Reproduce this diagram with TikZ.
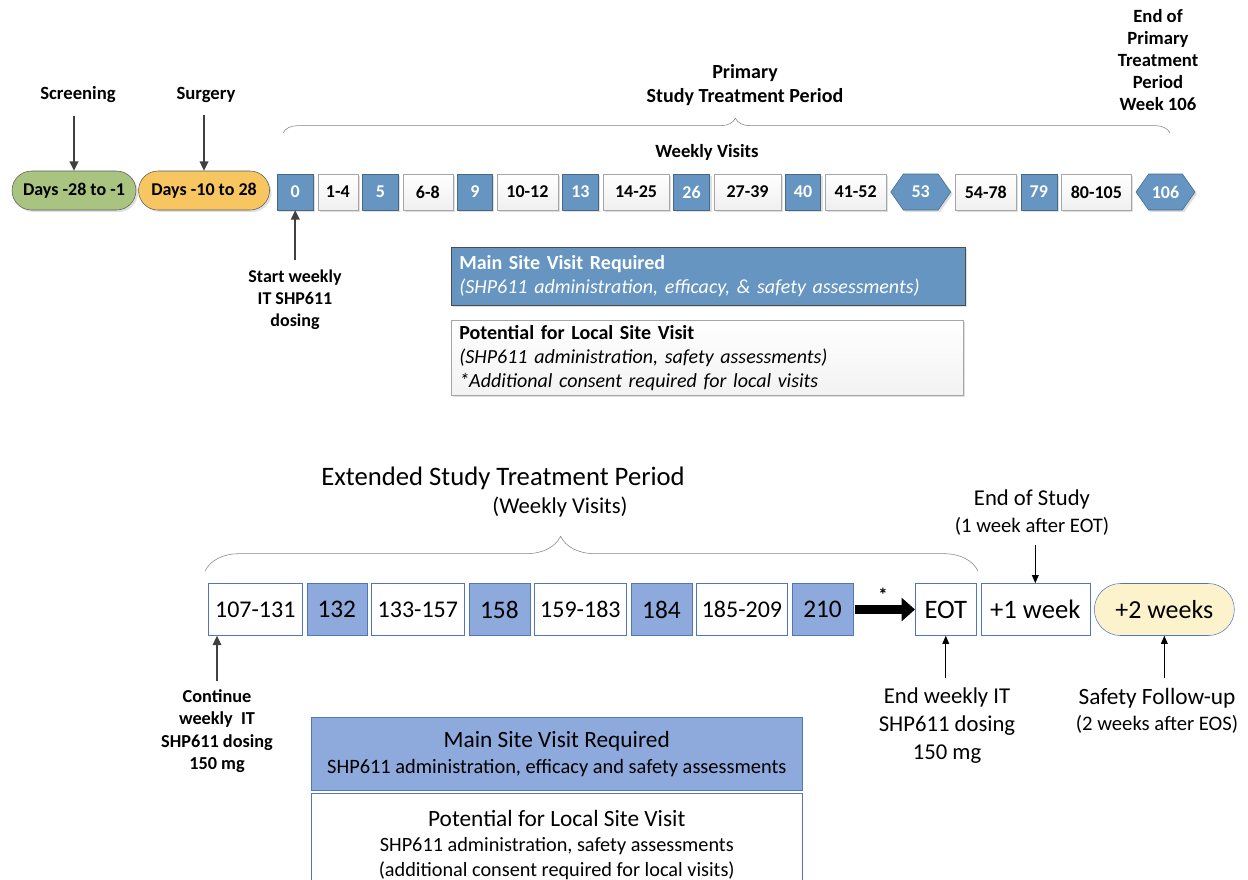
\documentclass[tikz,border=0pt]{standalone}
\usepackage{fontspec}
\setmainfont{Carlito}
\usepackage{xcolor}
\usetikzlibrary{positioning}
\usetikzlibrary{shapes.misc,shapes.symbols,shadows}
\usetikzlibrary{arrows.meta,decorations.pathreplacing}
\definecolor{visitblue}{RGB}{101,149,192}
\definecolor{lightblue}{RGB}{142,169,219}
\definecolor{edgeblue}{RGB}{82,118,190}
\definecolor{screengreen}{RGB}{169,196,128}
\definecolor{surgorange}{RGB}{247,198,96}
\definecolor{fupyellow}{RGB}{252,243,204}
\definecolor{arrgray}{RGB}{64,64,64}
\tikzset{>={Triangle[length=7pt,width=6.5pt]}}

\begin{document}
\begin{tikzpicture}[x=0.75pt, y=-0.75pt, node distance=3pt,
		wd/.style={minimum width=#1*0.75pt},
		ht/.style={minimum height=#1*0.75pt},
		tlab/.style={font=\fontsize{14}{16.5}\selectfont\bfseries, align=center},
		blab/.style={font=\fontsize{17}{21}\selectfont, align=center},
		shad/.style={drop shadow={opacity=0.25, shadow xshift=1.5pt, shadow yshift=-1.5pt}},
		wk/.style={draw=gray!70, top color=white, bottom color=gray!12, ht=36, inner sep=0pt,
			font=\fontsize{13.5}{15}\selectfont\bfseries, shad},
		bk/.style={draw=visitblue!70!black, fill=visitblue, text=white, ht=36, inner sep=0pt,
			font=\fontsize{13.5}{15}\selectfont\bfseries, shad},
		hx/.style={bk, signal, signal to=west and east, signal pointer angle=110},
		pill/.style={rounded rectangle, draw=gray!70!black, ht=39, inner sep=0pt,
			font=\fontsize{13.5}{15}\selectfont\bfseries, shad},
		ewk/.style={draw=edgeblue, fill=white, ht=52, inner sep=0pt,
			font=\fontsize{18}{20}\selectfont},
		ebk/.style={draw=edgeblue, fill=lightblue, ht=52, inner sep=0pt,
			font=\fontsize{19}{20}\selectfont},
		arr/.style={->, arrgray, line width=1.2pt},
		barr/.style={-{Triangle[length=6pt,width=5pt]}, black, line width=0.7pt}]
	\useasboundingbox (0,0) rectangle (1248,879);

	%% Primary study treatment period
	\node [pill, fill=screengreen, wd=124] (scrn) at (74,190.5) {Days -28 to -1};
	\node [pill, fill=surgorange, wd=131, right=1.5pt of scrn] (surgd) {Days -10 to 28};
	\node [tlab] (scr) at (78,95) {Screening};
	\node [tlab] (surg) at (206,95) {Surgery};
	\draw [arr, shorten <=6pt] (scr.south -| scrn.north) -- (scrn.north);
	\draw [arr, shorten <=6pt] (surg.south -| surgd.north) -- (surgd.north);

	\node [bk, wd=36, anchor=west] (b0) at (277,192) {0};
	\node [wk, wd=40, right=of b0] (b1) {1-4};
	\node [bk, wd=36, right=of b1] (b5) {5};
	\node [wk, wd=50, right=of b5] (b6) {6-8};
	\node [bk, wd=35, right=of b6] (b9) {9};
	\node [wk, wd=61, right=of b9] (b10) {10-12};
	\node [bk, wd=36, right=of b10] (b13) {13};
	\node [wk, wd=66, right=of b13] (b14) {14-25};
	\node [bk, wd=36, right=of b14] (b26) {26};
	\node [wk, wd=67, right=of b26] (b27) {27-39};
	\node [bk, wd=35, right=of b27] (b40) {40};
	\node [wk, wd=61, right=of b40] (b41) {41-52};
	\node [hx, wd=60, right=of b41] (b53) {53};
	\node [wk, wd=61, right=of b53] (b54) {54-78};
	\node [bk, wd=36, right=of b54] (b79) {79};
	\node [wk, wd=70, right=of b79] (b80) {80-105};
	\node [hx, wd=59, right=of b80] (b106) {106};

	\node [tlab, font=\fontsize{13.5}{16.5}\selectfont\bfseries] (start) at (295,300) {Start weekly\\IT SHP611\\dosing};
	\draw [arr, shorten <=4pt] (start.north -| b0.south) -- (b0.south);

	\node [tlab, font=\fontsize{15}{18}\selectfont\bfseries] (prim) at (745,85) {Primary\\Study Treatment Period};
	\node [tlab] (eopt) at (1158,60) {End of\\Primary\\Treatment\\Period\\Week 106};
	\node [tlab] (wv) at (707,152) {Weekly Visits};
	\coordinate (pbl) at (283,133);
	\coordinate (pbr) at (1170,133);
	\draw [gray, decorate, decoration={brace, amplitude=11pt, aspect=0.51}] (pbl) -- (pbr);

	\node [draw=gray!60!black, fill=visitblue, text=white, anchor=north west, inner xsep=6pt,
		text width=373.5pt, ht=58, align=left, shad,
		font=\fontsize{15}{18}\selectfont] (mainA) at (451,247)
		{\textbf{Main Site Visit Required}\\\textit{(SHP611 administration, efficacy, \& safety assessments)}};
	\node [draw=gray!70, top color=white, bottom color=gray!10, anchor=north west, inner xsep=6pt,
		text width=372pt, ht=75, align=left, shad,
		font=\fontsize{15}{18}\selectfont] (potA) at (451,320)
		{\textbf{Potential for Local Site Visit}\\\textit{(SHP611 administration, safety assessments)}\\\textit{*Additional consent required for local visits}};

	%% Extended study treatment period
	\node [font=\fontsize{20}{22}\selectfont] (ext) at (503,478) {Extended Study Treatment Period};
	\node [blab] (wv2) at (560,507) {(Weekly Visits)};
	\coordinate (ebl) at (205,571);
	\coordinate (ebr) at (978,571);
	\draw [gray, decorate, decoration={brace, amplitude=26pt, aspect=0.46}] (ebl) -- (ebr);

	\node [ewk, wd=94, anchor=west] (e107) at (208,609.5) {107-131};
	\node [ebk, wd=60, right=of e107] (e132) {132};
	\node [ewk, wd=93, right=of e132] (e133) {133-157};
	\node [ebk, wd=61, right=of e133] (e158) {158};
	\node [ewk, wd=92, right=of e158] (e159) {159-183};
	\node [ebk, wd=61, right=of e159] (e184) {184};
	\node [ewk, wd=91, right=of e184] (e185) {185-209};
	\node [ebk, wd=61, right=of e185] (e210) {210};
	\node [ewk, wd=61, anchor=west, font=\fontsize{20}{20}\selectfont] (eot) at (915,609.5) {EOT};
	\node [ewk, wd=109, right=of eot, font=\fontsize{20}{20}\selectfont] (wk1) {+1 week};
	\node [rounded rectangle, draw=edgeblue, fill=fupyellow, wd=140, ht=52, inner sep=0pt,
		font=\fontsize{19.5}{20}\selectfont, right=of wk1] (fup) {+2 weeks};
	\draw [line width=7pt, -{Triangle[length=10pt,width=17pt]}, shorten <=1pt] (e210) -- (eot);
	\node [font=\fontsize{14}{14}\selectfont\bfseries] (ast) at (883,595) {*};

	\node [blab] (eos) at (1032,499) {End of Study};
	\node [blab, font=\fontsize{15.5}{15}\selectfont] (eosn) at (1032,526) {(1 week after EOT)};
	\draw [barr, shorten <=4pt] (eosn.south -| wk1.north) -- (wk1.north);

	\node [blab] (endw) at (947,726) {End weekly IT\\SHP611 dosing\\150 mg};
	\draw [barr, shorten <=4pt] (endw.north -| eot.south) -- (eot.south);

	\node [blab, font=\fontsize{17.5}{21}\selectfont] (safe) at (1157,698) {Safety Follow-up};
	\node [blab, font=\fontsize{15.5}{15}\selectfont] (safen) at (1157,724) {(2 weeks after EOS)};
	\draw [barr, shorten <=4pt] (safe.north -| fup.south) -- (fup.south);

	\node [tlab, font=\fontsize{13.7}{16.75}\selectfont\bfseries] (cont) at (217,731)
		{Continue\\weekly~~IT\\SHP611 dosing\\150 mg};
	\draw [arr, line width=0.9pt, shorten <=3pt] (cont.north) -- (cont.north |- e107.south);

	\node [draw=edgeblue, fill=lightblue, anchor=north west, wd=491, ht=73, align=center,
		font=\fontsize{15.3}{19.5}\selectfont] (mainB) at (311,717)
		{{\fontsize{17.5}{19.5}\selectfont Main Site Visit Required}\\SHP611 administration, efficacy and safety assessments};
	\node [draw=edgeblue, fill=white, anchor=north west, wd=491, ht=100, align=center,
		font=\fontsize{15.2}{18.5}\selectfont, inner ysep=5pt, text depth=0pt] (potB) at (311,793)
		{{\fontsize{17.5}{19}\selectfont Potential for Local Site Visit}\\SHP611 administration, safety assessments\\(additional consent required for local visits)};
\end{tikzpicture}
\end{document}
